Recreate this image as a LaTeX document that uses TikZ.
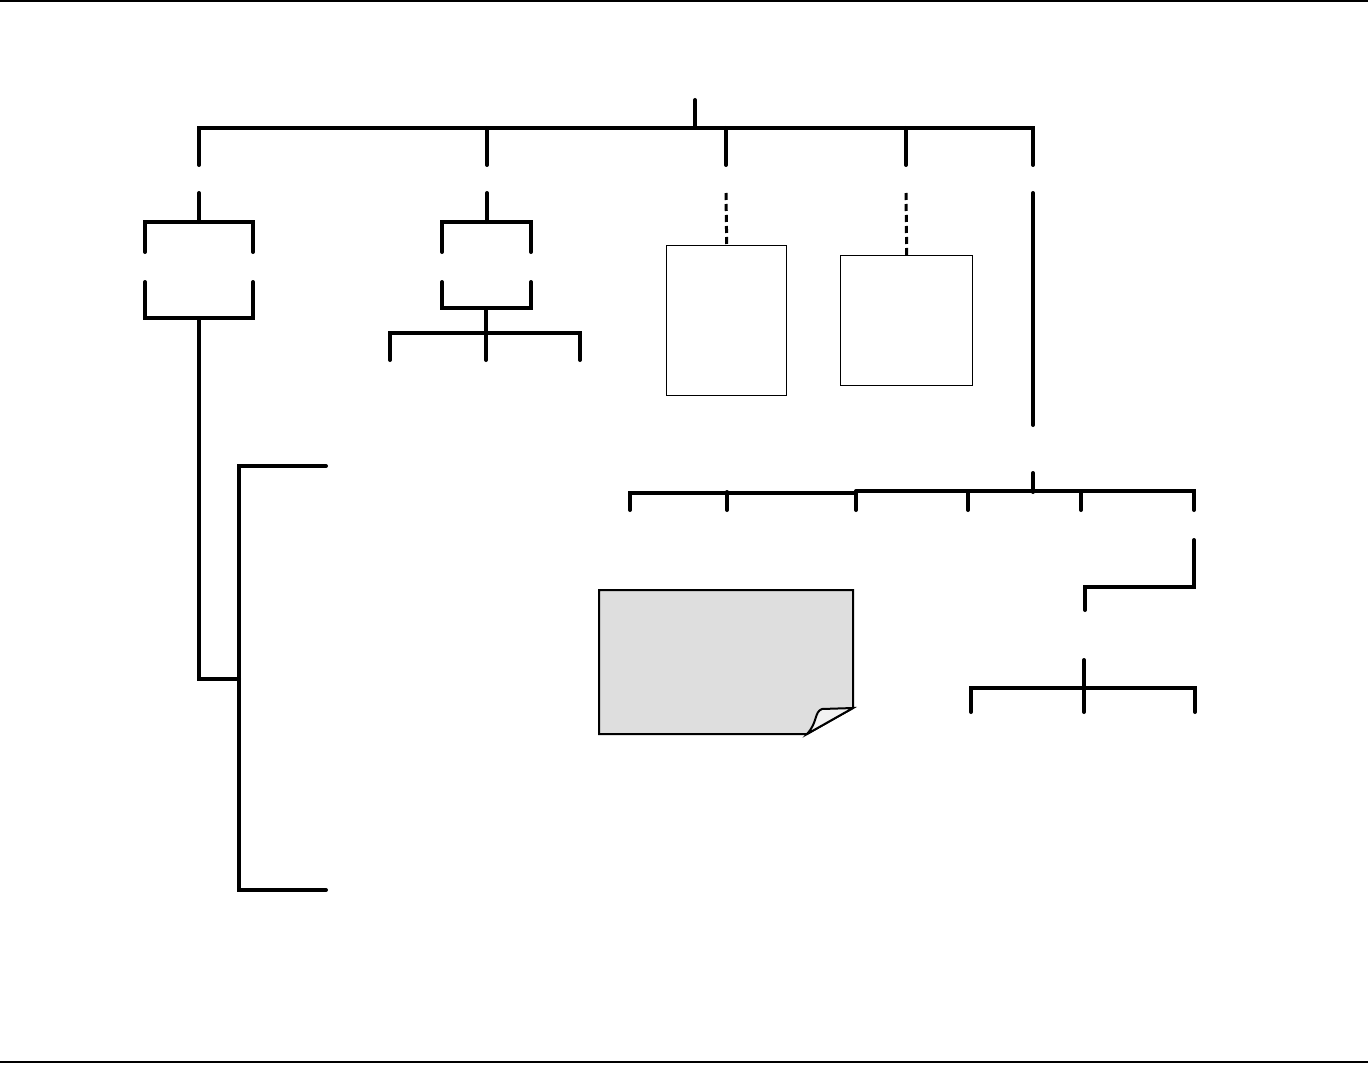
\documentclass[tikz,border=0pt]{standalone}
\begin{document}
\begin{tikzpicture}[x=0.5pt,y=-0.5pt,
  wire/.style={line width=2pt,line cap=round,line join=miter},
  dwire/.style={line width=1.5pt,dash pattern=on 3.5pt off 2pt},
  thinbox/.style={draw,line width=0.7pt,fill=white,inner sep=0pt,anchor=north west},
  rule/.style={line width=0.8pt}]
\useasboundingbox (0,0) rectangle (1368,1064);
\fill[white] (0,0) rectangle (1368,1064);
% page rules
\draw[rule] (0,1) -- (1368,1);
\draw[rule] (0,1062) -- (1368,1062);
% root
\coordinate (root) at (695,100);
\draw[wire] (root) -- (695,128);
\draw[wire] (199,165) -- (199,128) -- (1033,128) -- (1033,165);
\foreach \x in {487,726,906} \draw[wire] (\x,128) -- (\x,165);
% group 1
\draw[wire] (199,193) -- (199,222);
\draw[wire] (145,252) -- (145,222) -- (253,222) -- (253,252);
\draw[wire] (145,282) -- (145,318) -- (253,318) -- (253,282);
\draw[wire] (199,318) -- (199,679) -- (239,679);
\draw[wire] (326,466) -- (239,466) -- (239,890) -- (326,890);
% group 2
\draw[wire] (487,193) -- (487,222);
\draw[wire] (442,252) -- (442,222) -- (531,222) -- (531,252);
\draw[wire] (442,282) -- (442,308) -- (531,308) -- (531,282);
\draw[wire] (486,308) -- (486,360);
\draw[wire] (390,360) -- (390,333) -- (580,333) -- (580,360);
% boxes
\node[thinbox,minimum width=60pt,minimum height=75pt] (b1) at (666,245) {};
\node[thinbox,minimum width=66pt,minimum height=65pt] (b2) at (840,255) {};
\draw[dwire] (726,193) -- (b1.north);
\draw[dwire] (906,193) -- (b2.north);
% group 5
\draw[wire] (1033,193) -- (1033,425);
\draw[wire] (1033,473) -- (1033,492);
\draw[wire] (630,510) -- (630,493) -- (856,493);
\draw[wire] (856,491) -- (1194,491) -- (1194,510);
\foreach \x in {727,856,968,1081} \draw[wire] (\x,492) -- (\x,510);
\draw[wire] (1194,540) -- (1194,587) -- (1085,587) -- (1085,610);
\draw[wire] (1084,660) -- (1084,712);
\draw[wire] (971,712) -- (971,688) -- (1195,688) -- (1195,712);
% note
\coordinate (n1) at (599,590);
\draw[line width=1pt,fill=black!13] (n1) -- (853,590) -- (853,708) -- (807,734) -- (599,734) -- cycle;
\draw[line width=1pt,fill=black!5] (807,734) .. controls (818,722) and (814,712) .. (822,709) -- (853,708) -- cycle;
\end{tikzpicture}
\end{document}
